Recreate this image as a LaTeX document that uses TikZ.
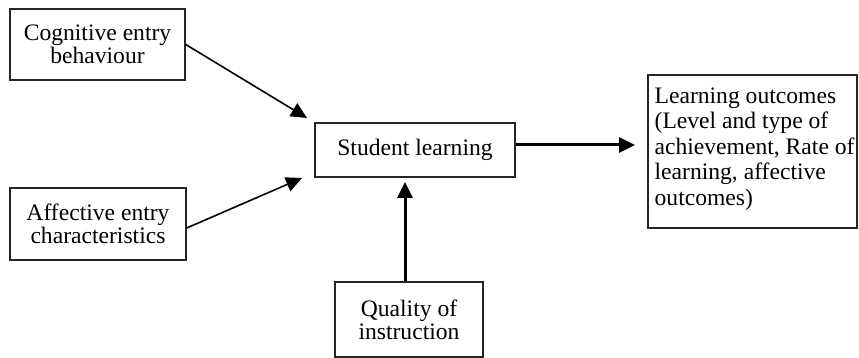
\documentclass[tikz,border=0pt]{standalone}
\usepackage{fontspec}
\setmainfont{Liberation Serif}
\usetikzlibrary{arrows.meta}
\begin{document}
\begin{tikzpicture}[x=0.5pt,y=-0.5pt,
  box/.style={draw=black!85,line width=0.75pt,inner sep=0pt,align=center,
    font=\fontsize{11.8pt}{11.6pt}\selectfont},
  thinarrow/.style={line width=0.8pt,-{Triangle[length=8pt,width=7.5pt]}},
  thickarrow/.style={line width=1.5pt,-{Triangle[length=8pt,width=7.5pt]}}]
\useasboundingbox (0,0) rectangle (859,358);
\node[box,minimum width=87.5pt,minimum height=35.5pt] (c1) at (97.5,44.5) {Cognitive entry\\behaviour};
\node[box,minimum width=88pt,minimum height=36pt] (c2) at (98,224) {Affective entry\\characteristics};
\node[box,minimum width=100pt,minimum height=27pt] (sl) at (415,150) {Student learning};
\node[box,minimum width=104.5pt,minimum height=76.5pt] (lo) at (752.5,151.5) {};
\node[anchor=north west,inner sep=0pt,align=left,
  font=\fontsize{11.8pt}{12.75pt}\selectfont] (lot) at ([xshift=3.5pt,yshift=-6.5pt]lo.north west)
  {Learning outcomes\\(Level and type of\\achievement, Rate of\\learning, affective\\outcomes)};
\node[box,minimum width=74pt,minimum height=37.5pt] (q) at (409,319.5) {Quality of\\instruction};
\coordinate (t1) at (307,118);
\coordinate (t2) at (302,178);
\coordinate (t3) at (635,145);
\coordinate (t4) at (405,182);
\draw[thinarrow] (c1.east) -- (t1);
\draw[thinarrow] ([yshift=-2pt]c2.east) -- (t2);
\draw[thickarrow] (sl.east |- t3) -- (t3);
\draw[thickarrow] (q.north -| t4) -- (t4);
\end{tikzpicture}
\end{document}
